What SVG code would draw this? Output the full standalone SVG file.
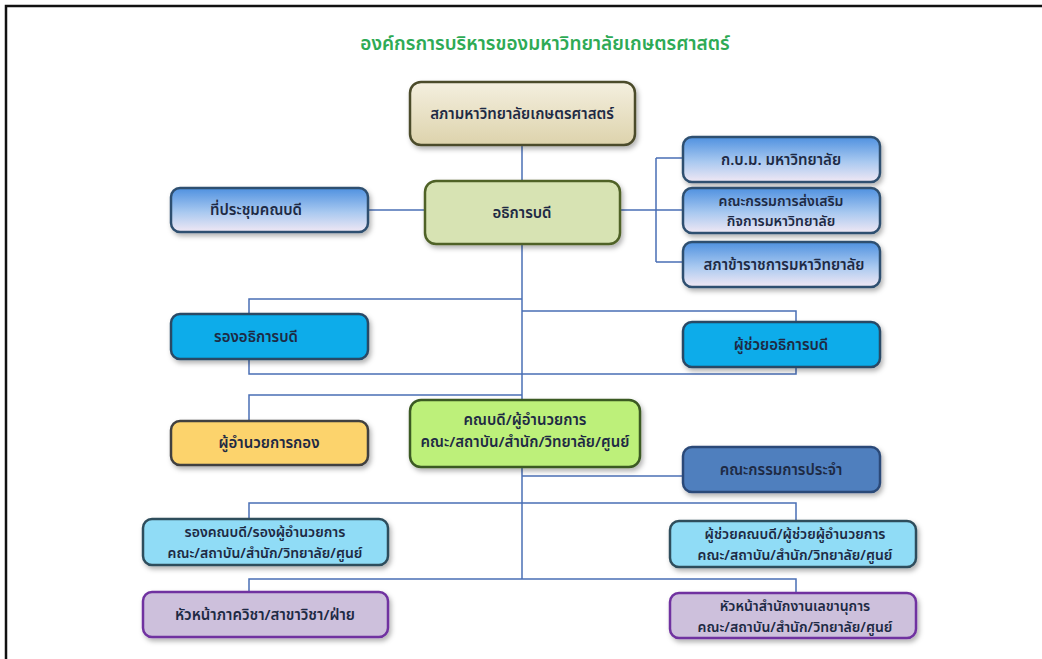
<svg xmlns="http://www.w3.org/2000/svg" width="1042" height="659" viewBox="0 0 1042 659">
<defs>
<linearGradient id="gBeige" x1="0" y1="0" x2="0" y2="1"><stop offset="0" stop-color="#f4efdf"/><stop offset="1" stop-color="#ddd3ac"/></linearGradient>
<linearGradient id="gBlue" x1="0" y1="0" x2="0" y2="1"><stop offset="0" stop-color="#4f91e0"/><stop offset="0.55" stop-color="#a9c9f0"/><stop offset="1" stop-color="#f1e8f4"/></linearGradient>
<filter id="sh" x="-10%" y="-20%" width="125%" height="150%"><feDropShadow dx="2" dy="3" stdDeviation="2.5" flood-color="#000" flood-opacity="0.3"/></filter>
<style>
.t{font-family:"Noto Sans Thai","Tahoma","Liberation Sans","DejaVu Sans",sans-serif;font-size:15px;font-weight:600;fill:#1e2a44;text-anchor:middle;}
.s{font-size:14px;}
.title{font-family:"Noto Sans Thai","Tahoma","Liberation Sans",sans-serif;font-size:19px;font-weight:600;fill:#2eaa55;text-anchor:middle;}
.c{stroke:#4a6fb5;stroke-width:1.5;fill:none;}
.b{stroke-width:2.5;filter:url(#sh);}
</style>
</defs>
<rect x="0" y="0" width="1042" height="659" fill="#ffffff"/>
<path d="M6,659 V6 H1042" fill="none" stroke="#111" stroke-width="2.5"/>
<text class="title" x="545" y="50">องค์กรการบริหารของมหาวิทยาลัยเกษตรศาสตร์</text>
<g id="connectors">
<path class="c" d="M522,145 V579"/>
<path class="c" d="M368,210 H425"/>
<path class="c" d="M620,210 H656 M656,158 V262 M656,158 H683 M656,210 H683 M656,262 H683"/>
<path class="c" d="M522,299 H249 V374 H796 V311 H522"/>
<path class="c" d="M522,395 H249 V421"/>
<path class="c" d="M522,476 H683"/>
<path class="c" d="M249,520 V503 H796 V521"/>
<path class="c" d="M249,593 V579 H796 V593"/>
</g>
<g id="n1"><rect class="b" x="410" y="82" width="225" height="63" rx="11" fill="url(#gBeige)" stroke="#4b4b2c"/><text class="t" x="522" y="119">สภามหาวิทยาลัยเกษตรศาสตร์</text></g>
<g id="n2"><rect class="b" x="425" y="181" width="195" height="63" rx="11" fill="#d7e3b3" stroke="#4f6228"/><text class="t" x="522" y="218">อธิการบดี</text></g>
<g id="n3"><rect class="b" x="171" y="188" width="197" height="44" rx="9" fill="url(#gBlue)" stroke="#2f4f6f"/><text class="t" x="256" y="215">ที่ประชุมคณบดี</text></g>
<g id="n4"><rect class="b" x="683" y="137" width="197" height="45" rx="9" fill="url(#gBlue)" stroke="#2f4f6f"/><text class="t" x="781" y="165">ก.บ.ม. มหาวิทยาลัย</text></g>
<g id="n5"><rect class="b" x="683" y="188" width="197" height="45" rx="9" fill="url(#gBlue)" stroke="#2f4f6f"/><text class="t s" x="781" y="206">คณะกรรมการส่งเสริม</text><text class="t s" x="781" y="226">กิจการมหาวิทยาลัย</text></g>
<g id="n6"><rect class="b" x="683" y="242" width="197" height="45" rx="9" fill="url(#gBlue)" stroke="#2f4f6f"/><text class="t" x="784" y="270">สภาข้าราชการมหาวิทยาลัย</text></g>
<g id="n7"><rect class="b" x="171" y="314" width="197" height="45" rx="9" fill="#0aacea" stroke="#2a4865"/><text class="t" x="256" y="342">รองอธิการบดี</text></g>
<g id="n8"><rect class="b" x="683" y="322" width="197" height="45" rx="9" fill="#0aacea" stroke="#2a4865"/><text class="t" x="781" y="350">ผู้ช่วยอธิการบดี</text></g>
<g id="n9"><rect class="b" x="171" y="421" width="197" height="44" rx="9" fill="#fcd36c" stroke="#3f3f3f"/><text class="t" x="269" y="448">ผู้อำนวยการกอง</text></g>
<g id="n10"><rect class="b" x="410" y="400" width="230" height="67" rx="11" fill="#bdf07a" stroke="#3b5a24"/><text class="t" x="525" y="425">คณบดี/ผู้อำนวยการ</text><text class="t" x="525" y="447">คณะ/สถาบัน/สำนัก/วิทยาลัย/ศูนย์</text></g>
<g id="n11"><rect class="b" x="683" y="447" width="197" height="45" rx="9" fill="#4f7fbe" stroke="#2c4a78"/><text class="t" x="781" y="475">คณะกรรมการประจำ</text></g>
<g id="n12"><rect class="b" x="143" y="519" width="245" height="46" rx="9" fill="#90dcf6" stroke="#2e4d5c"/><text class="t s" x="265" y="537">รองคณบดี/รองผู้อำนวยการ</text><text class="t s" x="265" y="558">คณะ/สถาบัน/สำนัก/วิทยาลัย/ศูนย์</text></g>
<g id="n13"><rect class="b" x="670" y="521" width="246" height="46" rx="9" fill="#90dcf6" stroke="#2e4d5c"/><text class="t s" x="795" y="539">ผู้ช่วยคณบดี/ผู้ช่วยผู้อำนวยการ</text><text class="t s" x="795" y="560">คณะ/สถาบัน/สำนัก/วิทยาลัย/ศูนย์</text></g>
<g id="n14"><rect class="b" x="143" y="592" width="245" height="45" rx="9" fill="#cdc0dc" stroke="#7030a0"/><text class="t" x="265" y="620">หัวหน้าภาควิชา/สาขาวิชา/ฝ่าย</text></g>
<g id="n15"><rect class="b" x="670" y="593" width="246" height="45" rx="9" fill="#cdc0dc" stroke="#7030a0"/><text class="t s" x="795" y="611">หัวหน้าสำนักงานเลขานุการ</text><text class="t s" x="795" y="632">คณะ/สถาบัน/สำนัก/วิทยาลัย/ศูนย์</text></g>
</svg>
